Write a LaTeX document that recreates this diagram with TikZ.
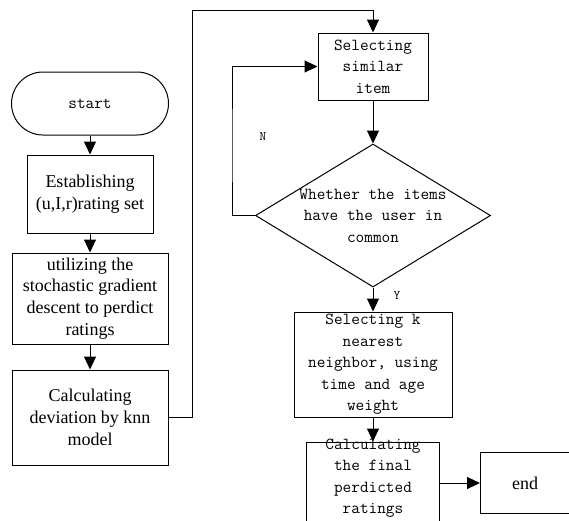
\documentclass[tikz,border=0pt]{standalone}
\usepackage{fontspec}
\setmainfont{Liberation Serif}
\usetikzlibrary{shapes, arrows, arrows.meta, positioning}

\begin{document}
\begin{tikzpicture}[-,>={Triangle[length=13pt,width=12pt]},x=1pt,y=-1pt,
      line width=1pt,
      box node/.style={rectangle,draw,align=center,inner sep=0pt,
        font=\fontsize{18}{21.7}\selectfont},
      mono node/.style={rectangle,draw,align=center,inner sep=0pt,
        font=\ttfamily\fontsize{16.8}{21.5}\selectfont},
      term node/.style={rounded rectangle,draw,inner sep=0pt,
        font=\ttfamily\fontsize{16.8}{21.5}\selectfont},
      decision node/.style={diamond,draw,inner sep=0pt,aspect=1.64},
      mono text/.style={align=center,font=\ttfamily\fontsize{16.8}{21.5}\selectfont},
      other node/.style={font=\ttfamily\fontsize{13}{15}\selectfont}]

    \clip (0,0) rectangle (569,520);

    \node[term node, minimum width=157pt, minimum height=63pt] (1) at (90,103.5) {start};
    \node[box node, minimum width=126pt, minimum height=78pt] (2) [below=19pt of 1] {Establishing\\(u,I,r)rating set};
    \node[box node, minimum width=156pt, minimum height=91pt] (3) [below=19pt of 2] {utilizing the\\stochastic gradient\\descent to perdict\\ratings};
    \node[box node, minimum width=156pt, minimum height=95pt] (4) [below=25pt of 3] {Calculating\\deviation by knn\\model};
    \node[mono node, minimum width=110pt, minimum height=67pt] (5) at (373,66.5) {Selecting\\similar\\item};
    \node[decision node, minimum width=235pt, minimum height=143pt,
      label={[mono text]center:{Whether the items\\have the user in\\common}}] (6) [below=43pt of 5] {};
    \node[mono node, minimum width=158pt, minimum height=105pt] (7) [below=24pt of 6] {Selecting k\\nearest\\neighbor, using\\time and age\\weight};
    \node[mono node, minimum width=133pt, minimum height=82pt,
      label={[mono text,yshift=5pt]center:{Calculating\\the final\\perdicted\\ratings}}] (8) [below=24pt of 7] {};
    \node[box node, minimum width=89pt, minimum height=61pt] (9) [right=40pt of 8] {end};

    \node[other node] (n) at (263,137) {N};
    \node[other node] (y) at (397,296) {Y};

    \coordinate (c1) at (192,10);
    \coordinate (c2) at (232,150);

    \path[->]
        (1) edge (2)
        (2) edge (3)
        (3) edge (4)
        (5) edge (6)
        (6) edge (7)
        (7) edge (8)
        (8) edge (9)
    ;
    \draw[->] (4.east) -| (c1) -| (5.north);
    \draw[->] (6.west) -| (c2) |- (5.west);
\end{tikzpicture}
\end{document}
